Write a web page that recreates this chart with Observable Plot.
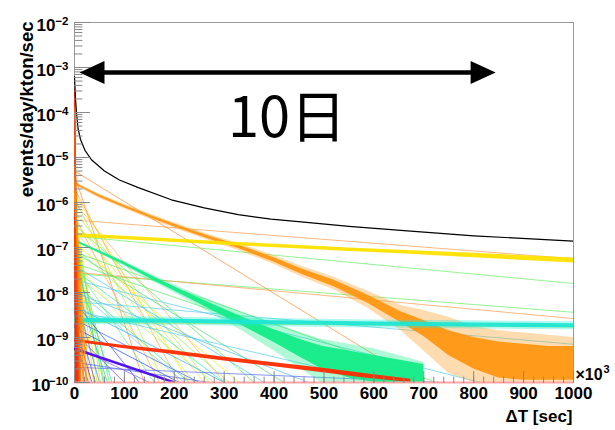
<!DOCTYPE html>
<html><head><meta charset="utf-8">
<script src="https://cdn.jsdelivr.net/npm/d3@7"></script>
<script src="https://cdn.jsdelivr.net/npm/@observablehq/plot@0.6"></script>
<style>
html,body{margin:0;padding:0;background:#fff;}
#chart{width:615px;height:430px;}
</style></head><body><div id="chart"></div>
<script>
// ---- axis values ----
const xTickMajor = [0,100,200,300,400,500,600,700,800,900,1000];
const xTickMinor = d3.range(0, 1001, 20);
const yDecades = [-2,-3,-4,-5,-6,-7,-8,-9,-10];

// ---- annotation ----
const titleText = "10日";
const titlePos = [426, -4.14];       // ΔT, log10 rate
const arrowTips = [10, 844];        // ΔT of the two arrow tips
const arrowLog = -3.11;

// ---- black total curve (log10 values) ----
const blackX   = [0, 2, 4, 7, 12, 21, 34, 60, 90, 128, 194, 260, 328, 394, 454, 550, 654, 800, 1000];
const blackLog = [-3.2,-3.7,-4.0,-4.35,-4.6,-4.84,-5.05,-5.3,-5.5,-5.67,-5.94,-6.12,-6.27,-6.37,-6.43,-6.53,-6.62,-6.74,-6.86];

// ---- noisy orange histogram (outer envelope and dense core, log10) ----
const orangeX      = [0,20,50,100,160,220,280,330,400,454,520,588,654,700,750,800,850,900,950,1000];
const orangeHi     = [-5.53,-5.65,-5.81,-6.04,-6.29,-6.53,-6.75,-6.91,-7.18,-7.41,-7.66,-7.97,-8.29,-8.4,-8.55,-8.75,-8.85,-8.9,-8.95,-9.0];
const orangeLo     = [-5.61,-5.73,-5.91,-6.14,-6.41,-6.65,-6.89,-7.07,-7.38,-7.65,-7.94,-8.35,-8.85,-9.3,-9.8,-10,-10,-10,-10,-10];
const orangeCoreHi = [-5.55,-5.67,-5.835,-6.065,-6.32,-6.56,-6.785,-6.95,-7.23,-7.47,-7.73,-8.06,-8.43,-8.62,-8.85,-9.0,-9.1,-9.15,-9.2,-9.2];
const orangeCoreLo = [-5.59,-5.71,-5.885,-6.115,-6.38,-6.62,-6.855,-7.03,-7.33,-7.59,-7.87,-8.24,-8.67,-8.98,-9.4,-9.7,-9.9,-9.95,-9.95,-9.95];

// ---- noisy green histogram ----
const greenX      = [0,30,60,100,160,220,280,340,400,454,494,550,600,650,700];
const greenHi     = [-6.82,-6.97,-7.11,-7.31,-7.63,-7.93,-8.21,-8.46,-8.69,-8.9,-9.04,-9.15,-9.25,-9.4,-9.55];
const greenLo     = [-6.88,-7.03,-7.19,-7.41,-7.77,-8.13,-8.5,-8.88,-9.3,-9.7,-10,-10,-10,-10,-10];
const greenCoreHi = [-6.83,-6.98,-7.125,-7.33,-7.66,-7.98,-8.28,-8.56,-8.83,-9.05,-9.19,-9.3,-9.4,-9.5,-9.6];
const greenCoreLo = [-6.87,-7.02,-7.175,-7.39,-7.74,-8.08,-8.42,-8.76,-9.11,-9.45,-9.69,-9.9,-10,-10,-10];

// ---- noisy cyan histogram ----
const cyanX      = [0,100,200,300,400,500,600,700,800,900,1000];
const cyanHi     = [-8.53,-8.54,-8.55,-8.565,-8.58,-8.595,-8.61,-8.62,-8.63,-8.64,-8.65];
const cyanLo     = [-8.71,-8.72,-8.73,-8.745,-8.76,-8.775,-8.79,-8.8,-8.81,-8.82,-8.83];
const cyanCoreHi = [-8.575,-8.585,-8.595,-8.61,-8.625,-8.64,-8.655,-8.665,-8.675,-8.685,-8.695];
const cyanCoreLo = [-8.665,-8.675,-8.685,-8.7,-8.715,-8.73,-8.745,-8.755,-8.765,-8.775,-8.785];

// ---- noisy yellow histogram ----
const yellowX  = [0,100,200,300,454,550,654,800,1000];
const yellowHi = [-6.69,-6.75,-6.81,-6.87,-6.955,-7.01,-7.06,-7.13,-7.235];
const yellowLo = [-6.77,-6.83,-6.89,-6.95,-7.035,-7.09,-7.14,-7.23,-7.345];

// ---- noisy red histogram ----
const redX  = [0,100,194,300,400,494,580,674];
const redHi = [-9.04,-9.18,-9.29,-9.44,-9.56,-9.68,-9.8,-9.93];
const redLo = [-9.1,-9.25,-9.37,-9.52,-9.65,-9.78,-9.9,-10];

// ---- very short-lived components forming the strip at ΔT≈0 ----
const steepColor = ["#ff2a00","#ff5a1a","#ff3d00","#ff5500","#ff2a00","#ff6a00","#ff8000","#ff2200","#ff9900","#ff4400"];
const steepStart = [-3.5,-3.9,-4.2,-4.6,-5.0,-5.2,-5.5,-6.0,-5.8,-6.5];
const steepEndX  = [3,5,6,9,4,12,18,5,24,8];

// ---- thin exponential components: colour, log10 at ΔT=0, end ΔT, log10 at end ----
const fitColor = [
 "#ffb300","#ffcc00","#e6e600","#ccee00","#99ee22","#66ee33","#33dd66","#22ddaa","#22bbdd","#3388ee",
 "#4455ee","#5522dd","#7722cc",
 "#ff8c33","#ffa050","#ffb060","#ffaa55","#ffe000","#ffdd33","#f5f000","#ffe64d","#bbee33","#aaee44",
 "#ccf055","#99ee55","#bbee66","#55ee55","#44dd66","#66ee77","#33dd88","#22eeaa","#44ccee","#55bbee",
 "#33aaee","#66ccff","#3366ff","#4466ee","#5566ff","#2244ee","#3344dd","#7744ee","#8855ee",
 "#ff9a4d","#66ee66","#66ee66","#ff9a4d","#ccdd33","#55ccee","#55ccee","#ff8c33","#55ee66","#55ee66","#55ccee"
];
const fitStart = [
 -5.9,-6.2,-6.4,-6.1,-6.5,-6.8,-7.0,-7.3,-7.7,-8.0,
 -8.4,-8.7,-9.0,
 -5.4,-5.7,-6.0,-6.3,-5.8,-6.4,-6.9,-7.3,-5.9,-6.2,
 -6.6,-7.0,-7.6,-6.5,-7.1,-7.4,-7.8,-7.5,-7.4,-8.0,
 -8.3,-7.9,-8.6,-9.55,-9.66,-8.78,-8.2,-8.9,-9.2,
 -6.39,-6.75,-7.58,-7.55,-8.66,-8.2,-7.72,-5.3,-7.1,-7.35,-8.4
];
const fitEndX = [
 30,38,45,52,60,70,58,75,66,50,
 42,35,28,
 140,210,300,170,230,260,330,200,180,270,
 240,310,280,360,420,160,230,300,380,470,
 300,220,250,270,740,210,130,100,150,
 1000,1000,1000,1000,1000,1000,814,691,725,700,620
];
const fitEnd = [
 -10,-10,-10,-10,-10,-10,-10,-10,-10,-10,
 -10,-10,-10,
 -10,-10,-10,-10,-10,-10,-10,-10,-10,-10,
 -10,-10,-10,-10,-10,-10,-10,-10,-10,-10,
 -10,-10,-10,-10,-10,-10,-10,-10,-10,
 -7.25,-7.8,-8.44,-8.58,-8.77,-9.15,-10,-10,-10,-10,-10
];
// thick violet component
const violetX = [0, 200];
const violetLog = [-9.25, -10];

// ---- build tables ----
const P = v => Math.pow(10, v);
const fitRows = fitColor.flatMap((c, i) => [
  {id: i, c, x: 0, y: P(fitStart[i])},
  {id: i, c, x: fitEndX[i], y: P(fitEnd[i])}
]);
const steepRows = steepColor.flatMap((c, i) => [
  {id: i, c, x: 0, y: P(steepStart[i])},
  {id: i, c, x: steepEndX[i], y: 1e-10}
]);
const band = (X, lo, hi) => X.map((x, i) => ({x, lo: P(lo[i]), hi: P(hi[i])}));
const blackRows = blackX.map((x, i) => ({x, y: P(blackLog[i])}));
const violetRows = violetX.map((x, i) => ({x, y: P(violetLog[i])}));

const tickShape = {draw(ctx, l) { ctx.moveTo(0, 0); ctx.lineTo(0, -l); }};
const yMajor = yDecades.map(P);
const yMinor = yDecades.slice(1).flatMap(e => d3.range(2, 10).map(m => m * P(e)));
const font = "'Liberation Sans', Arial, Helvetica, sans-serif";
const bandMark = (X, lo, hi, fill, op) => Plot.areaY(band(X, lo, hi), {x: "x", y1: "lo", y2: "hi", fill, fillOpacity: op, clip: true});

const chart = Plot.plot({
  width: 615, height: 430,
  marginLeft: 74, marginRight: 42, marginTop: 22, marginBottom: 48,
  x: {domain: [0, 1000], axis: null},
  y: {type: "log", domain: [1e-10, 1e-2], axis: null},
  color: {type: "identity"},
  style: {fontFamily: font, background: "#fff", overflow: "visible"},
  marks: [
    Plot.frame({stroke: "#999"}),
    // thin components
    Plot.line(fitRows, {x: "x", y: "y", z: "id", stroke: "c", strokeWidth: 1, strokeOpacity: 0.7, clip: true}),
    Plot.line(violetRows, {x: "x", y: "y", stroke: "#5511ee", strokeWidth: 2.5, clip: true}),
    // orange
    bandMark(orangeX, orangeLo, orangeHi, "#ff9a1a", 0.35),
    bandMark(orangeX, orangeCoreLo, orangeCoreHi, "#ff9612", 0.95),
    // green
    bandMark(greenX, greenLo, greenHi, "#19ef8d", 0.35),
    bandMark(greenX, greenCoreLo, greenCoreHi, "#14ec88", 0.95),
    // cyan
    bandMark(cyanX, cyanLo, cyanHi, "#22e8d4", 0.35),
    bandMark(cyanX, cyanCoreLo, cyanCoreHi, "#1ee6d2", 0.95),
    // yellow
    bandMark(yellowX, yellowLo, yellowHi, "#ffe100", 0.95),
    // red
    bandMark(redX, redLo, redHi, "#ff2a00", 0.95),
    // short-lived strip
    Plot.line(steepRows, {x: "x", y: "y", z: "id", stroke: "c", strokeWidth: 2, strokeOpacity: 0.85, clip: true}),
    // black total
    Plot.line(blackRows, {x: "x", y: "y", stroke: "#000", strokeWidth: 1.2, clip: true}),
    // bottom frame line
    Plot.ruleY([1e-10], {stroke: "#ffa3a3", strokeWidth: 2}),
    // ticks
    Plot.vector(xTickMinor, {x: d => d, frameAnchor: "bottom", length: 5.5, anchor: "start", shape: tickShape, stroke: "#888", strokeWidth: 1}),
    Plot.vector(xTickMajor, {x: d => d, frameAnchor: "bottom", length: 11, anchor: "start", shape: tickShape, stroke: "#888", strokeWidth: 1}),
    Plot.vector(yMinor, {y: d => d, frameAnchor: "left", length: 7.5, rotate: 90, anchor: "start", shape: tickShape, stroke: "#888", strokeWidth: 1}),
    Plot.vector(yMajor, {y: d => d, frameAnchor: "left", length: 15, rotate: 90, anchor: "start", shape: tickShape, stroke: "#888", strokeWidth: 1}),
    // tick labels
    Plot.text(xTickMajor, {x: d => d, text: d => String(d), frameAnchor: "bottom", dy: 11, lineAnchor: "middle", fontSize: 17, fontWeight: "bold"}),
    Plot.text(yDecades.filter(e => e > -10), {y: P, text: () => "10", frameAnchor: "left", textAnchor: "end", dx: -19, dy: 3, lineAnchor: "middle", fontSize: 17, fontWeight: "bold"}),
    Plot.text(yDecades.filter(e => e <= -10), {y: P, text: () => "10", frameAnchor: "left", textAnchor: "end", dx: -24, dy: 3, lineAnchor: "middle", fontSize: 17, fontWeight: "bold"}),
    Plot.text(yDecades, {y: P, text: e => "\u2212" + (-e), frameAnchor: "left", textAnchor: "end", dx: -6, dy: -1, lineAnchor: "middle", fontSize: 11.5, fontWeight: "bold"}),
    // axis titles
    Plot.text(["events/day/kton/sec"], {frameAnchor: "top-left", dx: -47, dy: -1, rotate: -90, textAnchor: "end", lineAnchor: "middle", fontSize: 18.5, fontWeight: "bold"}),
    Plot.text(["\u0394T [sec]"], {frameAnchor: "bottom-right", dx: -1, dy: 34, textAnchor: "end", lineAnchor: "middle", fontSize: 17, fontWeight: "bold"}),
    Plot.text(["\u00d710"], {frameAnchor: "bottom-right", dx: 2, dy: -8, textAnchor: "start", lineAnchor: "middle", fontSize: 16, fontWeight: "bold"}),
    Plot.text(["3"], {frameAnchor: "bottom-right", dx: 30, dy: -13, textAnchor: "start", lineAnchor: "middle", fontSize: 11, fontWeight: "bold"}),
    // annotation arrow
    Plot.ruleY([P(arrowLog)], {x1: arrowTips[0], x2: arrowTips[1], stroke: "#000", strokeWidth: 4.5, insetLeft: 12, insetRight: 12}),
    Plot.vector([arrowTips[0]], {x: d => d, y: () => P(arrowLog), shape: "spike", length: 25, r: 11.5, rotate: -90, anchor: "end", fill: "#000", stroke: "none"}),
    Plot.vector([arrowTips[1]], {x: d => d, y: () => P(arrowLog), shape: "spike", length: 25, r: 11.5, rotate: 90, anchor: "end", fill: "#000", stroke: "none"}),
    Plot.text([titleText], {x: () => titlePos[0], y: () => P(titlePos[1]), fontFamily: "'Noto Sans CJK JP', sans-serif", fontSize: 56, fontWeight: 400, lineAnchor: "middle"})
  ]
});
document.getElementById("chart").appendChild(chart);
</script></body></html>
